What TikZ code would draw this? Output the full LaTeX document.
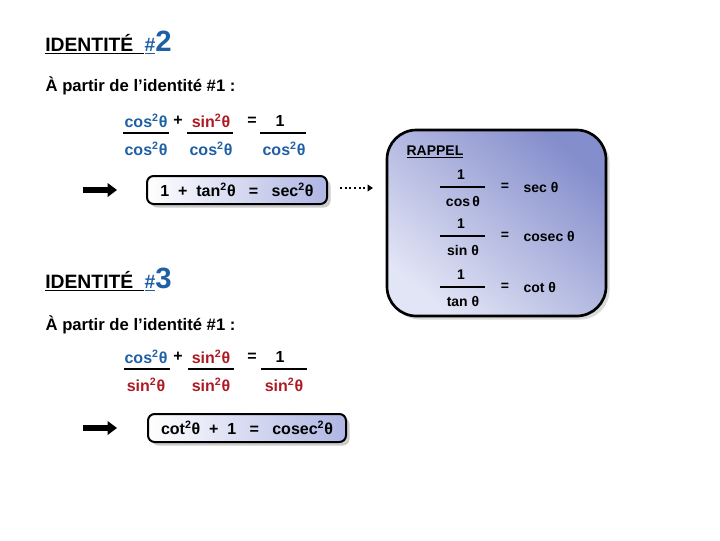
\documentclass[tikz,border=0pt]{standalone}
\usepackage{fontspec}
\setmainfont{Liberation Sans}
\usetikzlibrary{shadows,arrows.meta}
\definecolor{tb}{RGB}{30,95,165}
\definecolor{tr}{RGB}{175,25,35}
\definecolor{gb}{RGB}{140,150,215}
\newcommand{\tq}{θ}
\newcommand{\sq}{\textsuperscript{2}}
\begin{document}
\begin{tikzpicture}[x=0.75pt,y=-0.75pt,
  txt/.style={font=\bfseries\fontsize{12}{14}\selectfont,inner sep=1pt},
  sm/.style={font=\bfseries\fontsize{10.5}{12}\selectfont,inner sep=1pt},
  bar/.style={line width=2.2pt},
  bigarrow/.style={-{Triangle[length=7pt,width=10pt]},line width=4.5pt},
  resbox/.style={draw,line width=1.5pt,rounded corners=5pt,left color=white,right color=gb!70,drop shadow={opacity=0.4}},
  head/.style={font=\bfseries\fontsize{14.5}{16}\selectfont,inner sep=0pt,anchor=base west}]
\useasboundingbox (0,0) rectangle (720,540);
% Identity 2
\node[head] (h2) at (45,51) {\underline{IDENTITÉ\ \ }};
\node[head,text=tb] (h2n) at (h2.base east) {\underline{\#}{\fontsize{22}{24}\selectfont 2}};
\node[anchor=west,font=\bfseries\fontsize{12.5}{14}\selectfont,inner sep=1pt] (p2) at (44,86) {À partir de l’identité \#1 :};
\node[txt,text=tb] (a1) at (146,121) {cos\sq\tq};
\node[txt] (a2) at (178,121) {+};
\node[txt,text=tr] (a3) at (211,121) {sin\sq\tq};
\node[txt] (a4) at (252,121) {=};
\node[txt] (a5) at (280,121) {1};
\draw[bar] (123,133) coordinate (b1) -- (169,133) coordinate (b2);
\draw[bar] (187,133) coordinate (b3) -- (233,133) coordinate (b4);
\draw[bar] (260,133) coordinate (b5) -- (306,133) coordinate (b6);
\node[txt,text=tb] (d1) at (146,149) {cos\sq\tq};
\node[txt,text=tb] (d2) at (211,149) {cos\sq\tq};
\node[txt,text=tb] (d3) at (284,149) {cos\sq\tq};
\coordinate (ar1s) at (83,190); \coordinate (ar1e) at (117,190);
\draw[bigarrow] (ar1s) -- (ar1e);
\node[resbox,minimum width=180*0.75pt,minimum height=28*0.75pt,txt] (r1) at (237,190) {1\ \ +\ \ tan\sq\tq\ \ \ =\ \ \ sec\sq\tq};
\coordinate (dt1) at (340,188); \coordinate (dt2) at (373,188);
\draw[dotted,line width=1.5pt,-{Triangle[length=4pt,width=5pt]}] (dt1) -- (dt2);
% Rappel
\node[draw,line width=2pt,rounded corners=22pt,minimum width=219*0.75pt,minimum height=186*0.75pt,
  top color=gb!95!black,bottom color=gb!25,shading angle=-40,drop shadow={opacity=0.3}] (rp) at (496.5,223) {};
\node[sm,anchor=west] (rt) at (405,152) {\underline{RAPPEL}};
\foreach \y/\den/\res [count=\i] in {187/cos\,\tq/sec \tq, 236/sin \tq/cosec \tq, 287/tan \tq/cot \tq}{
  \node[sm] (n\i) at (461,\y-12) {1};
  \draw[bar] (440,\y) coordinate (fb\i) -- (485,\y) coordinate (fe\i);
  \node[sm] (m\i) at (463,\y+14) {\den};
  \node[sm] (q\i) at (505,\y) {=};
  \node[sm,anchor=west] (s\i) at (522,\y) {\res};
}
% Identity 3
\node[head] (h3) at (45,288) {\underline{IDENTITÉ\ \ }};
\node[head,text=tb] (h3n) at (h3.base east) {\underline{\#}{\fontsize{22}{24}\selectfont 3}};
\node[anchor=west,font=\bfseries\fontsize{12.5}{14}\selectfont,inner sep=1pt] (p3) at (44,325) {À partir de l’identité \#1 :};
\node[txt,text=tb] (c1) at (146,357) {cos\sq\tq};
\node[txt] (c2) at (178,357) {+};
\node[txt,text=tr] (c3) at (211,357) {sin\sq\tq};
\node[txt] (c4) at (252,357) {=};
\node[txt] (c5) at (280,357) {1};
\draw[bar] (124,369) coordinate (e1) -- (170,369) coordinate (e2);
\draw[bar] (188,369) coordinate (e3) -- (234,369) coordinate (e4);
\draw[bar] (261,369) coordinate (e5) -- (307,369) coordinate (e6);
\node[txt,text=tr] (f1) at (146,385) {sin\sq\tq};
\node[txt,text=tr] (f2) at (211,385) {sin\sq\tq};
\node[txt,text=tr] (f3) at (284,385) {sin\sq\tq};
\coordinate (ar2s) at (83,428); \coordinate (ar2e) at (117,428);
\draw[bigarrow] (ar2s) -- (ar2e);
\node[resbox,minimum width=198*0.75pt,minimum height=28*0.75pt,txt] (r2) at (247,428) {cot\sq\tq\ \ +\ \ 1\ \ \ =\ \ \ cosec\sq\tq};
\end{tikzpicture}
\end{document}
